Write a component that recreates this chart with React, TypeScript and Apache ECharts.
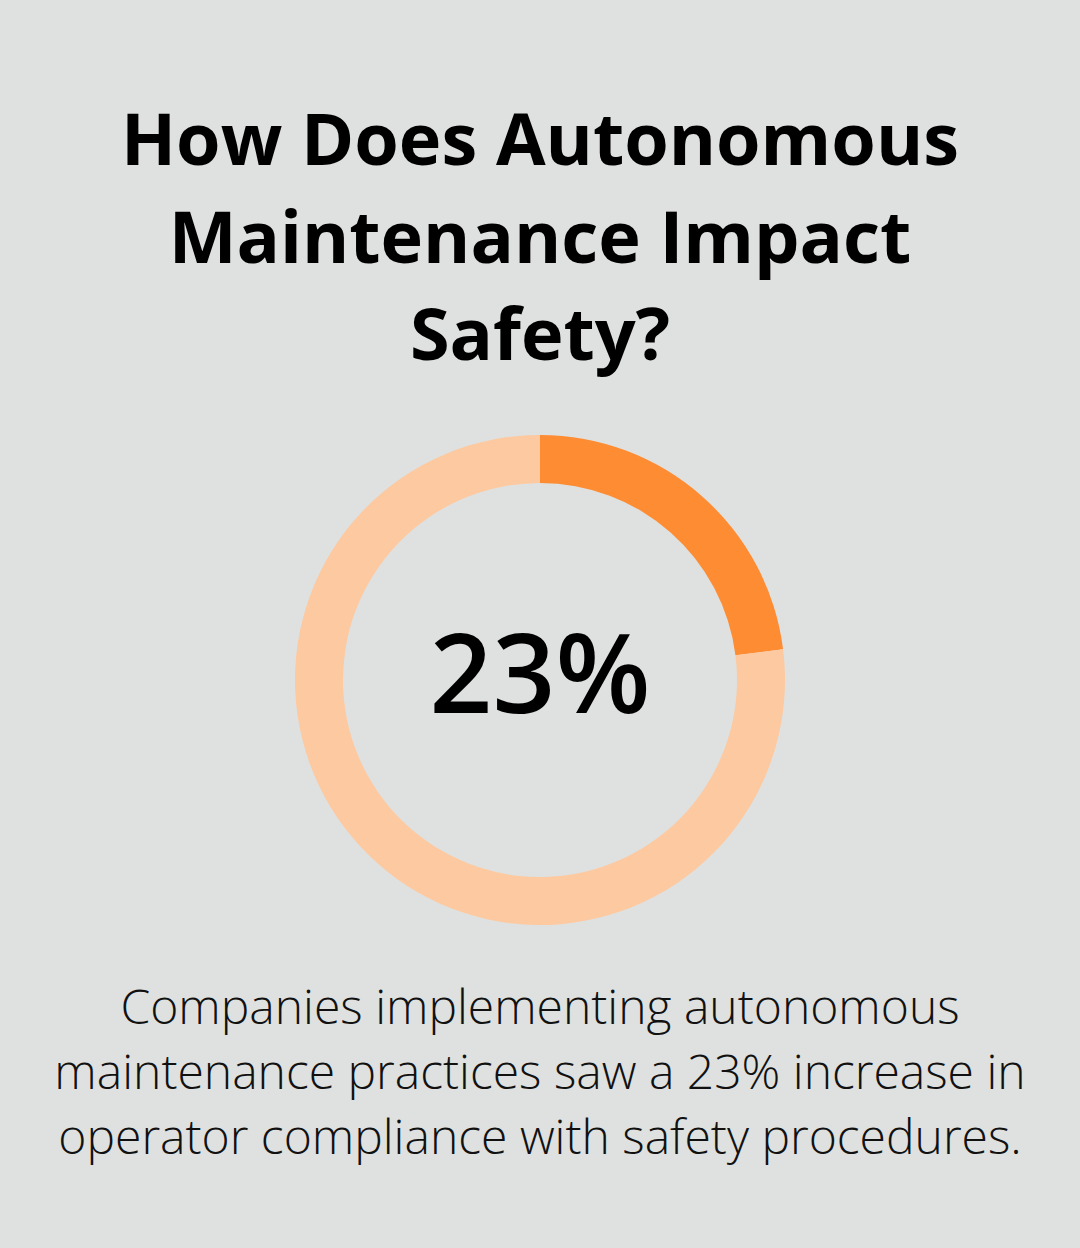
import React, { useEffect, useRef } from "react";
import * as echarts from "echarts";

const titleLines = ["How Does Autonomous", "Maintenance Impact", "Safety?"];
const bodyLines = [
  "Companies implementing autonomous",
  "maintenance practices saw a 23% increase in",
  "operator compliance with safety procedures.",
];
const categories = ["Increase in compliance", "Remainder"];
const values = [23, 77];
const centerLabel = "23%";

export default function App() {
  const ref = useRef<HTMLDivElement>(null);
  useEffect(() => {
    if (!ref.current) return;
    const chart = echarts.init(ref.current, undefined, { renderer: "svg" });
    const font = "'Open Sans', 'Noto Sans', sans-serif";
    const graphics: any[] = [];
    const titleY = [137, 235, 332];
    titleLines.forEach((t, i) =>
      graphics.push({
        type: "text",
        x: 540,
        y: titleY[i],
        style: {
          text: t,
          font: `700 72px ${font}`,
          fill: "#000000",
          align: "center",
          verticalAlign: "middle",
        },
      })
    );
    const bodyY = [1005, 1070, 1135];
    bodyLines.forEach((t, i) =>
      graphics.push({
        type: "text",
        x: 540,
        y: bodyY[i],
        style: {
          text: t,
          font: `300 48px ${font}`,
          fill: "#111111",
          align: "center",
          verticalAlign: "middle",
        },
      })
    );
    graphics.push({
      type: "text",
      x: 540,
      y: 670,
      style: {
        text: centerLabel,
        font: `600 110px ${font}`,
        fill: "#000000",
        align: "center",
        verticalAlign: "middle",
      },
    });
    chart.setOption({
      animation: false,
      backgroundColor: "#dfe1e0",
      graphic: graphics,
      series: [
        {
          type: "pie",
          center: [540, 680],
          radius: [197, 245],
          startAngle: 90,
          clockwise: true,
          silent: true,
          label: { show: false },
          labelLine: { show: false },
          data: categories.map((c, i) => ({
            name: c,
            value: values[i],
            itemStyle: { color: i === 0 ? "#fe8c33" : "#fdc9a0" },
          })),
        },
      ],
    });
    return () => chart.dispose();
  }, []);
  return (
    <div
      ref={ref}
      style={{ position: "fixed", left: 0, top: 0, width: 1080, height: 1248 }}
    />
  );
}
